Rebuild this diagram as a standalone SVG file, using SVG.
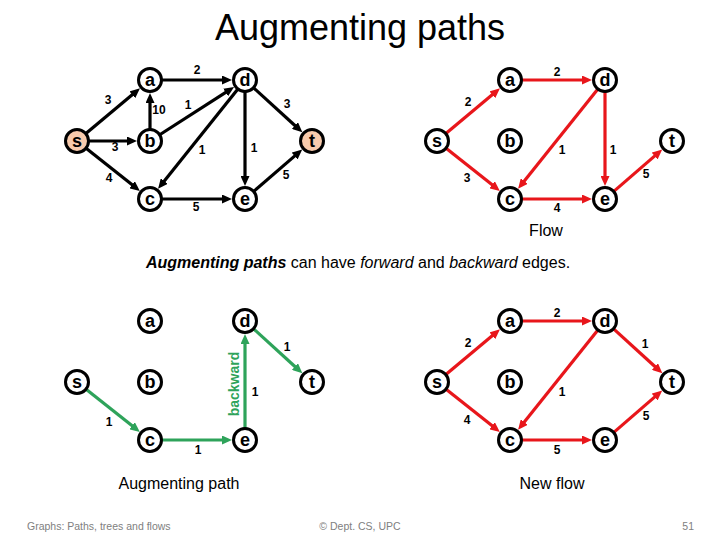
<svg xmlns="http://www.w3.org/2000/svg" width="720" height="540" viewBox="0 0 720 540">
<style>
.n circle{fill:#fff;stroke:#000;stroke-width:3}
.n.st circle{fill:#f8cbad}
.n text{font-family:"Liberation Sans",Arial,sans-serif;font-weight:bold;font-size:18px;text-anchor:middle}
.lbl{font-family:"Liberation Sans",Arial,sans-serif;font-weight:bold;font-size:12px;text-anchor:middle;fill:#000}
.k{stroke:#000;stroke-width:3.2;fill:none;marker-end:url(#ak)}
.r{stroke:#e8161b;stroke-width:3.2;fill:none;marker-end:url(#ar)}
.g{stroke:#2ea35a;stroke-width:3.2;fill:none;marker-end:url(#ag)}
.cap{font-family:"Liberation Sans",Arial,sans-serif;font-size:16px;text-anchor:middle;fill:#000}
.foot{font-family:"Liberation Sans",Arial,sans-serif;font-size:10.5px;fill:#808080}
</style>
<defs>
<marker id="ak" markerUnits="userSpaceOnUse" markerWidth="11" markerHeight="9" refX="1" refY="4.5" orient="auto"><path d="M0,0 L10,4.5 L0,9 z" fill="#000"/></marker>
<marker id="ar" markerUnits="userSpaceOnUse" markerWidth="11" markerHeight="9" refX="1" refY="4.5" orient="auto"><path d="M0,0 L10,4.5 L0,9 z" fill="#e8161b"/></marker>
<marker id="ag" markerUnits="userSpaceOnUse" markerWidth="11" markerHeight="9" refX="1" refY="4.5" orient="auto"><path d="M0,0 L10,4.5 L0,9 z" fill="#2ea35a"/></marker>
</defs>
<rect width="720" height="540" fill="#fff"/>
<text x="360" y="40" font-family="'Liberation Sans',Arial,sans-serif" font-size="36" text-anchor="middle">Augmenting paths</text>

<!-- Graph 1 connectors -->
<g id="edges1">
<line class="k" x1="86.2" y1="133.3" x2="133.1" y2="94.1"/>
<line class="k" x1="89" y1="141" x2="128" y2="141"/>
<line class="k" x1="86.4" y1="148.5" x2="132.8" y2="185.3"/>
<line class="k" x1="150" y1="129" x2="150" y2="102"/>
<line class="k" x1="162" y1="80" x2="223" y2="80"/>
<line class="k" x1="160.1" y1="134.5" x2="226.5" y2="91.9"/>
<line class="k" x1="237.5" y1="89.4" x2="163.7" y2="181.8"/>
<line class="k" x1="245" y1="92" x2="245" y2="177"/>
<line class="k" x1="253.9" y1="88.1" x2="295.7" y2="126.2"/>
<line class="k" x1="162" y1="199" x2="223" y2="199"/>
<line class="k" x1="254.1" y1="191.1" x2="295.4" y2="155.4"/>
<text class="lbl" x="108" y="104">3</text>
<text class="lbl" x="197" y="74">2</text>
<text class="lbl" x="159" y="114">10</text>
<text class="lbl" x="188" y="109">1</text>
<text class="lbl" x="287" y="108">3</text>
<text class="lbl" x="115" y="151">3</text>
<text class="lbl" x="202" y="154">1</text>
<text class="lbl" x="254" y="152">1</text>
<text class="lbl" x="109" y="182">4</text>
<text class="lbl" x="286" y="179">5</text>
<text class="lbl" x="196" y="211">5</text>
</g>
<g id="g1-s" class="n st"><circle cx="77" cy="141" r="11.5"/><text x="77" y="147">s</text></g>
<g id="g1-a" class="n"><circle cx="150" cy="80" r="11.5"/><text x="150" y="86">a</text></g>
<g id="g1-b" class="n"><circle cx="150" cy="141" r="11.5"/><text x="150" y="147">b</text></g>
<g id="g1-c" class="n"><circle cx="150" cy="199" r="11.5"/><text x="150" y="205">c</text></g>
<g id="g1-d" class="n"><circle cx="245" cy="80" r="11.5"/><text x="245" y="86">d</text></g>
<g id="g1-e" class="n"><circle cx="245" cy="199" r="11.5"/><text x="245" y="205">e</text></g>
<g id="g1-t" class="n st"><circle cx="312" cy="141" r="11.5"/><text x="312" y="147">t</text></g>

<!-- Graph 2: Flow -->
<g id="edges2">
<line class="r" x1="446.2" y1="133.3" x2="493.1" y2="94.1"/>
<line class="r" x1="522" y1="80" x2="583" y2="80"/>
<line class="r" x1="597.5" y1="89.4" x2="523.7" y2="181.8"/>
<line class="r" x1="605" y1="92" x2="605" y2="177"/>
<line class="r" x1="446.4" y1="148.5" x2="492.8" y2="185.3"/>
<line class="r" x1="522" y1="199" x2="583" y2="199"/>
<line class="r" x1="614.1" y1="191.1" x2="655.4" y2="155.4"/>
<text class="lbl" x="468" y="106">2</text>
<text class="lbl" x="557" y="76">2</text>
<text class="lbl" x="562" y="154">1</text>
<text class="lbl" x="613" y="154">1</text>
<text class="lbl" x="467" y="182">3</text>
<text class="lbl" x="646" y="178">5</text>
<text class="lbl" x="557" y="212">4</text>
</g>
<g id="g2-s" class="n"><circle cx="437" cy="141" r="11.5"/><text x="437" y="147">s</text></g>
<g id="g2-a" class="n"><circle cx="510" cy="80" r="11.5"/><text x="510" y="86">a</text></g>
<g id="g2-b" class="n"><circle cx="510" cy="141" r="11.5"/><text x="510" y="147">b</text></g>
<g id="g2-c" class="n"><circle cx="510" cy="199" r="11.5"/><text x="510" y="205">c</text></g>
<g id="g2-d" class="n"><circle cx="605" cy="80" r="11.5"/><text x="605" y="86">d</text></g>
<g id="g2-e" class="n"><circle cx="605" cy="199" r="11.5"/><text x="605" y="205">e</text></g>
<g id="g2-t" class="n"><circle cx="672" cy="141" r="11.5"/><text x="672" y="147">t</text></g>
<text class="cap" x="546" y="236">Flow</text>

<text x="358" y="268" font-family="'Liberation Sans',Arial,sans-serif" font-size="16" text-anchor="middle"><tspan font-weight="bold" font-style="italic">Augmenting paths</tspan> can have <tspan font-style="italic">forward</tspan> and <tspan font-style="italic">backward</tspan> edges.</text>

<!-- Graph 3: Augmenting path -->
<g id="edges3">
<line class="g" x1="86.4" y1="389.5" x2="132.8" y2="426.3"/>
<line class="g" x1="162" y1="440" x2="223" y2="440"/>
<line class="g" x1="245" y1="428" x2="245" y2="343"/>
<line class="g" x1="253.9" y1="329.1" x2="295.7" y2="367.2"/>
<text class="lbl" x="109" y="426">1</text>
<text class="lbl" x="198" y="454">1</text>
<text class="lbl" x="255" y="396">1</text>
<text class="lbl" x="287" y="351">1</text>
<text x="234" y="384" transform="rotate(-90 234 384)" font-family="'Liberation Sans',Arial,sans-serif" font-weight="bold" font-size="14" fill="#2ea35a" text-anchor="middle" dominant-baseline="central">backward</text>
</g>
<g id="g3-s" class="n"><circle cx="77" cy="382" r="11.5"/><text x="77" y="388">s</text></g>
<g id="g3-a" class="n"><circle cx="150" cy="321" r="11.5"/><text x="150" y="327">a</text></g>
<g id="g3-b" class="n"><circle cx="150" cy="382" r="11.5"/><text x="150" y="388">b</text></g>
<g id="g3-c" class="n"><circle cx="150" cy="440" r="11.5"/><text x="150" y="446">c</text></g>
<g id="g3-d" class="n"><circle cx="245" cy="321" r="11.5"/><text x="245" y="327">d</text></g>
<g id="g3-e" class="n"><circle cx="245" cy="440" r="11.5"/><text x="245" y="446">e</text></g>
<g id="g3-t" class="n"><circle cx="312" cy="382" r="11.5"/><text x="312" y="388">t</text></g>
<text class="cap" x="179" y="489">Augmenting path</text>

<!-- Graph 4: New flow -->
<g id="edges4">
<line class="r" x1="446.2" y1="374.3" x2="493.1" y2="335.1"/>
<line class="r" x1="522" y1="321" x2="583" y2="321"/>
<line class="r" x1="597.5" y1="330.4" x2="523.7" y2="422.8"/>
<line class="r" x1="613.9" y1="329.1" x2="655.7" y2="367.2"/>
<line class="r" x1="446.4" y1="389.5" x2="492.8" y2="426.3"/>
<line class="r" x1="522" y1="440" x2="583" y2="440"/>
<line class="r" x1="614.1" y1="432.1" x2="655.4" y2="396.4"/>
<text class="lbl" x="468" y="347">2</text>
<text class="lbl" x="557" y="317">2</text>
<text class="lbl" x="645" y="348">1</text>
<text class="lbl" x="562" y="396">1</text>
<text class="lbl" x="467" y="424">4</text>
<text class="lbl" x="646" y="420">5</text>
<text class="lbl" x="557" y="454">5</text>
</g>
<g id="g4-s" class="n"><circle cx="437" cy="382" r="11.5"/><text x="437" y="388">s</text></g>
<g id="g4-a" class="n"><circle cx="510" cy="321" r="11.5"/><text x="510" y="327">a</text></g>
<g id="g4-b" class="n"><circle cx="510" cy="382" r="11.5"/><text x="510" y="388">b</text></g>
<g id="g4-c" class="n"><circle cx="510" cy="440" r="11.5"/><text x="510" y="446">c</text></g>
<g id="g4-d" class="n"><circle cx="605" cy="321" r="11.5"/><text x="605" y="327">d</text></g>
<g id="g4-e" class="n"><circle cx="605" cy="440" r="11.5"/><text x="605" y="446">e</text></g>
<g id="g4-t" class="n"><circle cx="672" cy="382" r="11.5"/><text x="672" y="388">t</text></g>
<text class="cap" x="552" y="489">New flow</text>

<text class="foot" x="27" y="530">Graphs: Paths, trees and flows</text>
<text class="foot" x="360" y="530" text-anchor="middle">© Dept. CS, UPC</text>
<text class="foot" x="694" y="530" text-anchor="end">51</text>
</svg>
